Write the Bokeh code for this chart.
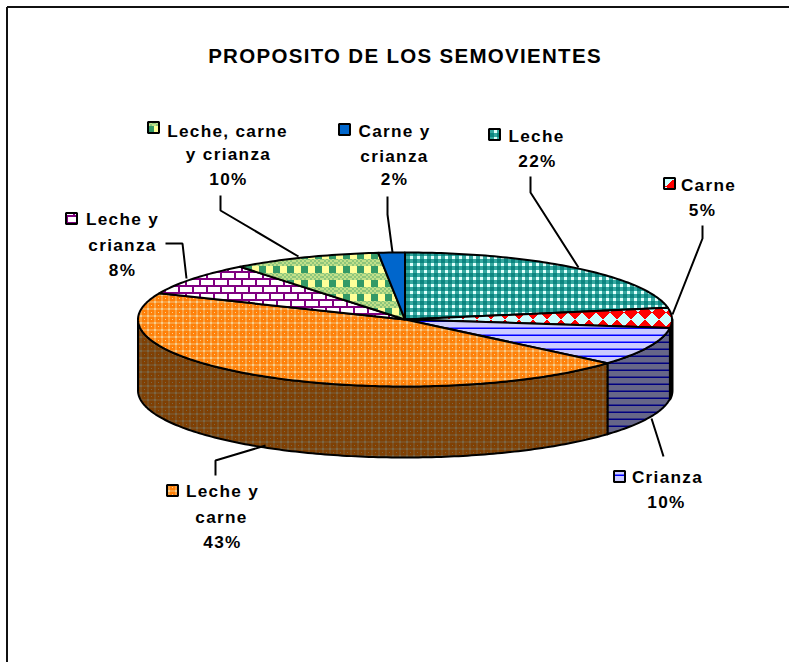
import base64, struct, zlib
import numpy as np
from bokeh.core.properties import value
from bokeh.embed import file_html
from bokeh.models import ImageURLTexture, Range1d
from bokeh.plotting import figure
from bokeh.resources import INLINE

# ---- data ----
categories = ["Leche", "Carne", "Crianza", "Leche y carne", "Leche y crianza", "Leche, carne y crianza", "Carne y crianza"]
percent_labels = ["22%", "5%", "10%", "43%", "8%", "10%", "2%"]
# slice shares as measured on the drawn (perspective) pie
slice_shares = [22.2, 4.8, 9.3, 45.1, 8.0, 9.0, 1.6]
title_text = "PROPOSITO DE LOS SEMOVIENTES"

# ---- layout (page pixels) ----
W, H = 789, 662
CX, CY, RX, RY, DEPTH = 404.5, 319, 267, 67, 71
FONT = "Liberation Sans"
LABEL_PT = "17.2px"
SPACING = 1.3

label_rows = {
    "Leche": [("Leche", 536, 135), ("22%", 537, 160)],
    "Carne": [("Carne", 708, 184), ("5%", 702, 209)],
    "Crianza": [("Crianza", 667, 476), ("10%", 666, 501)],
    "Leche y carne": [("Leche y", 222, 490), ("carne", 221, 516), ("43%", 222, 541)],
    "Leche y crianza": [("Leche y", 122, 218), ("crianza", 122, 244), ("8%", 122, 269)],
    "Leche, carne y crianza": [("Leche, carne", 227, 130), ("y crianza", 228, 153), ("10%", 228, 178)],
    "Carne y crianza": [("Carne y", 394, 130), ("crianza", 394, 155), ("2%", 394, 178)],
}
key_pos = {
    "Leche": (494, 134), "Carne": (669, 183), "Crianza": (619, 476), "Leche y carne": (172, 490),
    "Leche y crianza": (71, 218), "Leche, carne y crianza": (153, 127), "Carne y crianza": (344, 129),
}
leaders = [
    ([220, 220, 298], [195, 210, 256]),
    ([165, 182, 186], [243, 243, 278]),
    ([387, 387, 392], [196, 214, 252]),
    ([530, 530, 578], [176, 192, 267]),
    ([702, 702, 672], [225, 238, 314]),
    ([651, 658, 663], [418, 440, 456]),
    ([215, 215, 265], [475, 460, 445]),
]


# ---- pattern tiles ----
def png_uri(px):
    h, w, _ = px.shape
    raw = b"".join(b"\x00" + px[r].astype(np.uint8).tobytes() for r in range(h))
    def chunk(t, d):
        return struct.pack(">I", len(d)) + t + d + struct.pack(">I", zlib.crc32(t + d) & 0xffffffff)
    data = b"\x89PNG\r\n\x1a\n" + chunk(b"IHDR", struct.pack(">IIBBBBB", w, h, 8, 2, 0, 0, 0)) \
        + chunk(b"IDAT", zlib.compress(raw)) + chunk(b"IEND", b"")
    return "data:image/png;base64," + base64.b64encode(data).decode()


def rgb(s):
    return np.array([int(s[i:i + 2], 16) for i in (1, 3, 5)], dtype=float)


def tile_leche():
    t = np.zeros((7, 7, 3))
    for y in range(7):
        for x in range(7):
            a, b = y < 4, x < 4
            t[y, x] = rgb("#0B8580") if a and b else rgb("#DFFFFB") if not a and not b else rgb("#35A8A0")
    return t


def tile_carne():
    t = np.zeros((14, 14, 3))
    for y in range(14):
        for x in range(14):
            u, v = ((x + y + 58) // 14) % 2, ((x - y + 52) // 14) % 2
            t[y, x] = rgb("#FF0000") if u != v else rgb("#CCFFFF")
    return t


def tile_crianza(bg, fg):
    t = np.zeros((7, 7, 3))
    t[:] = rgb(bg)
    t[6:7] = rgb(fg)
    t[5:6] = (rgb(bg) + rgb(fg)) / 2
    return t


def tile_orange():
    t = np.zeros((7, 7, 3))
    t[:] = rgb("#FF8008")
    pale, mid = rgb("#F5CF90"), rgb("#FAA040")
    t[:2, :] = mid
    t[:, :2] = mid
    t[:2, :2] = pale
    t[4, 4] = pale
    return t


def tile_bricks():
    t = np.zeros((14, 14, 3))
    t[:] = rgb("#FFFFFF")
    purple = rgb("#800080")
    t[5:7] = purple
    t[12:14] = purple
    t[0:5, 3:5] = purple
    t[7:12, 10:12] = purple
    return t


def tile_plaid():
    t = np.zeros((14, 14, 3))
    green, yellow = rgb("#339966"), rgb("#FFFF99")
    for y in range(14):
        for x in range(14):
            if y < 7:
                t[y, x] = yellow if x < 7 else green
            else:
                t[y, x] = green * 0.55 + yellow * 0.45 if (x // 2 + y // 2) % 2 else yellow * 0.7 + green * 0.3
    return t


tops = {
    "Leche": tile_leche(),
    "Carne": tile_carne(),
    "Crianza": tile_crianza("#CCCCFF", "#0000FF"),
    "Leche y carne": tile_orange(),
    "Leche y crianza": tile_bricks(),
    "Leche, carne y crianza": tile_plaid(),
    "Carne y crianza": None,
}
sides = {
    "Carne": tile_carne() * 0.5,
    "Crianza": tile_crianza("#666688", "#000080"),
    "Leche y carne": tile_orange() * 0.5,
}


def textured(t):
    return {"hatch_pattern": "tile", "hatch_extra": {"tile": ImageURLTexture(url=png_uri(t))}}


def centred(x, s):
    # letter spacing widens the run to the right of its measured centre
    return x - len(s) * SPACING / 2


p = figure(width=W, height=H, x_range=Range1d(0, W), y_range=Range1d(H, 0),
           output_backend="svg", toolbar_location=None, min_border=0, outline_line_color=None,
           background_fill_color="white", border_fill_color="white",
           styles={"letter-spacing": f"{SPACING}px"})
p.axis.visible = False
p.grid.visible = False

# frame: top and left rules only
p.line([6.5, 6.5], [H, 6.5], line_color="#111111", line_width=2)
p.line([6.5, W], [6.5, 6.5], line_color="#111111", line_width=2)

# ---- pie ----
edges = np.radians(np.concatenate([[0], np.cumsum(slice_shares)]) * 3.6)


def arc(a, b, dy=0.0):
    t = np.linspace(a, b, max(int((b - a) * 60), 2))
    return CX + RX * np.sin(t), CY - RY * np.cos(t) + dy


FRONT_A, FRONT_B = np.pi / 2, 3 * np.pi / 2
for name, a, b in zip(categories, edges[:-1], edges[1:]):
    lo, hi = max(a, FRONT_A), min(b, FRONT_B)
    if lo >= hi:
        continue
    x1, y1 = arc(lo, hi)
    x2, y2 = arc(lo, hi, DEPTH)
    xs = np.concatenate([x1, x2[::-1]])
    ys = np.concatenate([y1, y2[::-1]])
    p.patch(xs, ys, fill_color="#000000", line_color="black", line_width=3 if name == "Carne" else 2,
            line_join="round", **textured(sides[name]))

for name, a, b in zip(categories, edges[:-1], edges[1:]):
    x1, y1 = arc(a, b)
    xs = np.concatenate([[CX], x1])
    ys = np.concatenate([[CY], y1])
    tile = tops[name]
    if tile is None:
        p.patch(xs, ys, fill_color="#0066CC", line_color="black", line_width=2)
    else:
        p.patch(xs, ys, fill_color="white", line_color="black", line_width=2, line_join="round", **textured(tile))

# ---- leaders ----
for lx, ly in leaders:
    p.line(lx, ly, line_color="black", line_width=2)

# ---- labels ----
p.text([centred(404.5, title_text)], [55], text=[title_text], text_font=value(FONT), text_font_style="bold",
       text_font_size="20.5px", text_align="center", text_baseline="middle", text_color="black")

for name in categories:
    rows = label_rows[name]
    p.text([centred(r[1], r[0]) for r in rows], [r[2] for r in rows], text=[r[0] for r in rows], text_font=value(FONT),
           text_font_style="bold", text_font_size=LABEL_PT, text_align="center", text_baseline="middle",
           text_color="black")
    kx, ky = key_pos[name]
    kxs, kys = [kx - 5.5, kx + 5.5, kx + 5.5, kx - 5.5], [ky - 5.5, ky - 5.5, ky + 5.5, ky + 5.5]
    if tops[name] is None:
        p.patch(kxs, kys, fill_color="#0066CC", line_color="black", line_width=2)
    else:
        p.patch(kxs, kys, fill_color="white", line_color="black", line_width=2, **textured(tops[name]))

open("out.html", "w").write(file_html(p, INLINE))
